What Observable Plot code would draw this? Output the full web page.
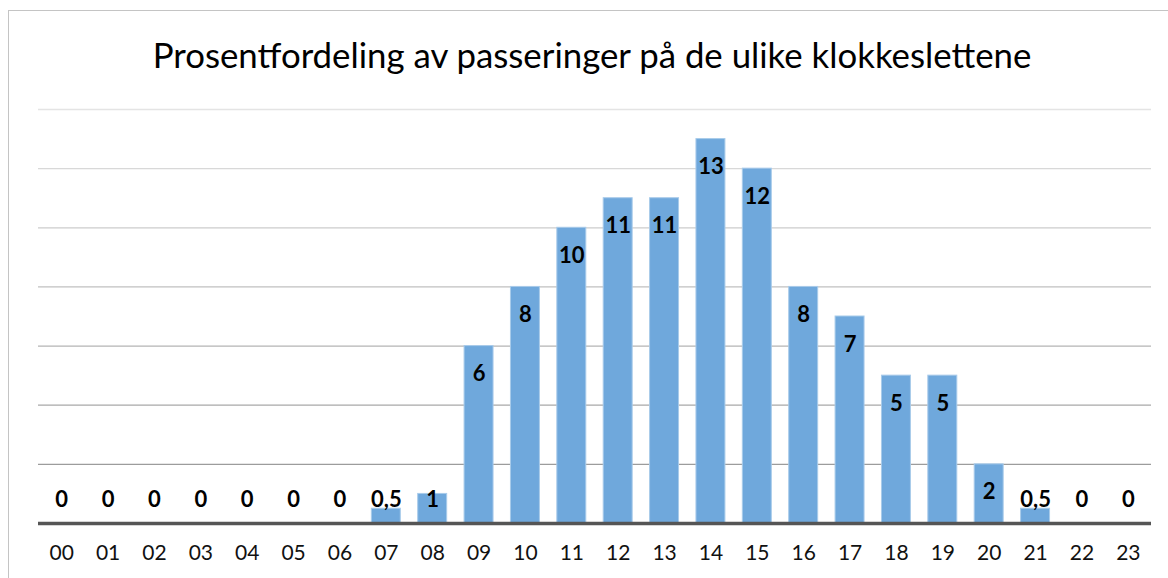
<!DOCTYPE html>
<html>
<head>
<meta charset="utf-8">
<script src="https://cdn.jsdelivr.net/npm/d3@7"></script>
<script src="https://cdn.jsdelivr.net/npm/@observablehq/plot@0.6"></script>
<style>
  html, body { margin: 0; padding: 0; background: #fff; overflow: hidden; }
  #frame { position: absolute; left: 8px; top: 10px; width: 1200px; height: 600px;
           border-left: 1.5px solid #c4c4c4; border-top: 1.5px solid #c4c4c4; }
  #wrap { position: absolute; left: 0; top: 0; width: 1168px; }
  #title { height: 90px; display: flex; align-items: center; justify-content: center;
           font-family: Lato, "Open Sans", sans-serif; font-size: 34.8px; color: #000;
           padding-top: 18px; padding-left: 16px; box-sizing: border-box; }
</style>
</head>
<body>
<div id="frame"></div>
<div id="wrap">
  <div id="title">Prosentfordeling av passeringer på de ulike klokkeslettene</div>
  <div id="chart"></div>
</div>
<script>
const hours = ["00","01","02","03","04","05","06","07","08","09","10","11","12","13","14","15","16","17","18","19","20","21","22","23"];
const shares = [0,0,0,0,0,0,0,0.5,1,6,8,10,11,11,13,12,8,7,5,5,2,0.5,0,0];
const gridValues = [2,4,6,8,10,12,14];

const data = hours.map((h, i) => ({hour: h, value: shares[i]}));
const fmt = v => String(v).replace(".", ",");
const gridColor = d3.scaleLinear().domain([2, 14]).range(["#9c9c9c", "#e4e4e4"]);

const chart = Plot.plot({
  width: 1168,
  height: 488,
  marginLeft: 38,
  marginRight: 17,
  marginTop: 19,
  marginBottom: 55,
  style: {fontFamily: "Lato, 'Open Sans', sans-serif", background: "transparent"},
  x: {domain: hours, padding: 0, round: false, label: null},
  y: {domain: [0, 14], axis: null},
  marks: [
    Plot.ruleY(gridValues, {stroke: d => gridColor(d), strokeWidth: 1.3}),
    Plot.barY(data, {x: "hour", y: "value", fill: "#6fa8dc", stroke: "#a8cbea", strokeWidth: 1,
      insetLeft: 8.7, insetRight: 8.7}),
    Plot.ruleY([0], {stroke: "#555555", strokeWidth: 3.5}),
    Plot.text(data, {x: "hour", y: d => Math.max(d.value, 1.73), text: d => fmt(d.value),
      dy: 28, fontWeight: "bold", fontSize: 22, fill: "#000", lineAnchor: "middle"}),
    Plot.axisX({tickSize: 0, tickPadding: 22, fontSize: 21, color: "#111", label: null})
  ]
});
document.getElementById("chart").appendChild(chart);
</script>
</body>
</html>
